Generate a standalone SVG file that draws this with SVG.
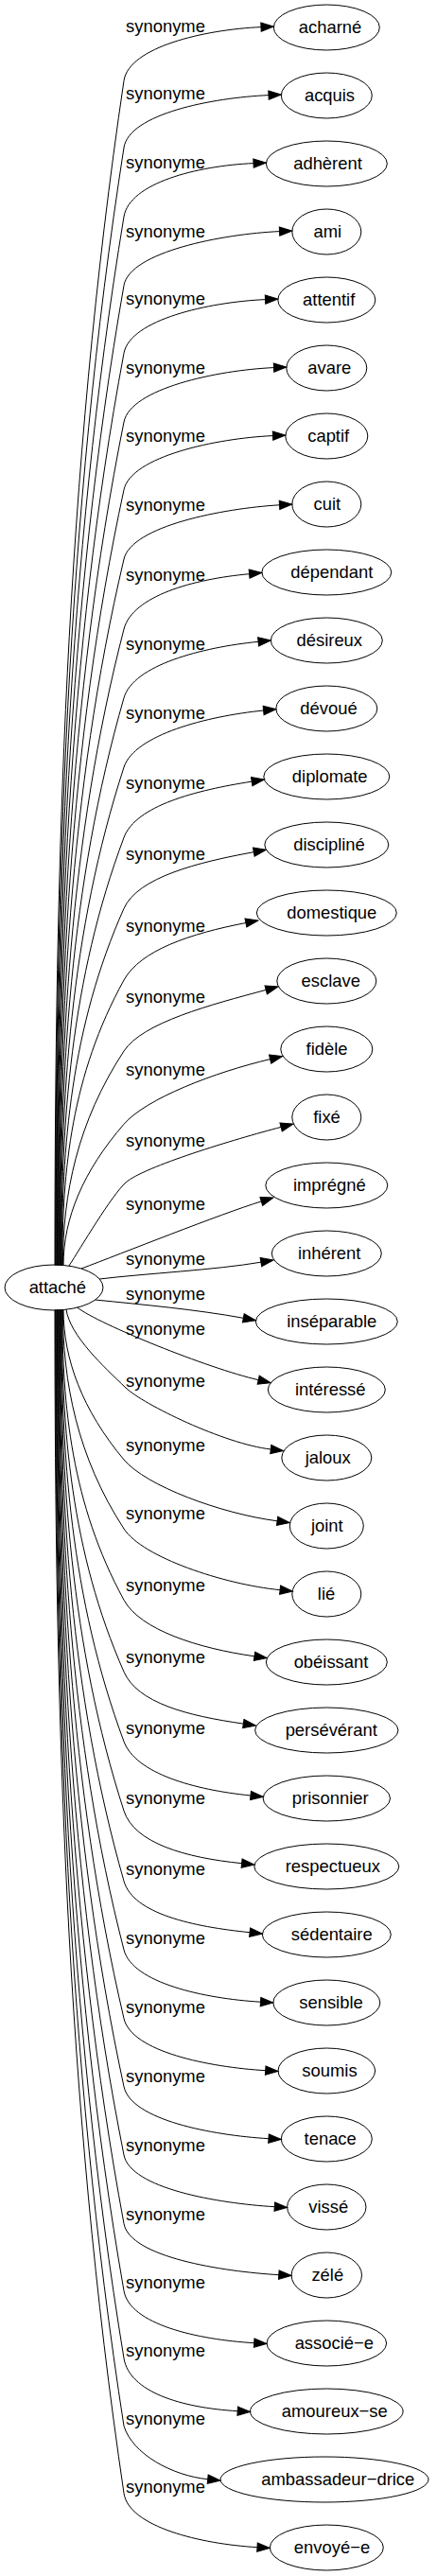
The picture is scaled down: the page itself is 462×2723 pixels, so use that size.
<svg xmlns="http://www.w3.org/2000/svg" width="462" height="2723" viewBox="0 0 462 2723">
<defs>
<style>
.n ellipse{fill:none;stroke:#000;stroke-width:1}
text{font-family:"Liberation Sans",Arial,sans-serif;font-size:18.4px;fill:#000;text-anchor:middle}
.e path{fill:none;stroke:#000;stroke-width:1;marker-end:url(#a)}
</style>
<marker id="a" markerUnits="userSpaceOnUse" markerWidth="14" markerHeight="10" refX="0" refY="5" orient="auto" overflow="visible"><path d="M0,0.33L13.3,5L0,9.67Z" fill="#000" stroke="#000" stroke-width="1"/></marker>
</defs>
<rect width="462" height="2723" fill="#fff"/>
<g id="connectors" class="e">
<g id="e0"><path d="M58,1337.5C58,920.1 68.95,502.7 131,85.3C136.3,49.7 216.1,31.3 276,28.6"/><text x="175" y="34.3">synonyme</text></g>
<g id="e1"><path d="M58.6,1337.5C58.6,943.7 69.46,549.8 131,156C136.6,120.4 224.1,103.3 284,100.6"/><text x="175" y="105">synonyme</text></g>
<g id="e2"><path d="M59.2,1337.5C59.2,968 69.97,598.5 131,229C136.9,193.5 208.1,175.3 268,172.6"/><text x="175" y="178">synonyme</text></g>
<g id="e3"><path d="M59.8,1337.5C59.8,992.2 70.48,647 131,301.7C137.2,266.2 235.6,247.3 295.5,244.6"/><text x="175" y="250.7">synonyme</text></g>
<g id="e4"><path d="M60.4,1337.5C60.4,1016.1 70.99,694.7 131,373.3C137.6,337.9 220.6,319.3 280.5,316.6"/><text x="175" y="322.3">synonyme</text></g>
<g id="e5"><path d="M61,1337.5C61,1040.3 71.5,743.2 131,446C138.1,410.7 229.6,391.3 289.5,388.6"/><text x="175" y="395">synonyme</text></g>
<g id="e6"><path d="M61.6,1337.5C61.6,1064.2 72.01,791 131,517.7C138.6,482.5 228.6,463.3 288.5,460.6"/><text x="175" y="466.7">synonyme</text></g>
<g id="e7"><path d="M62.2,1337.5C62.2,1088.7 72.52,839.8 131,591C139.2,556 235.6,537.4 295.5,533.8"/><text x="175" y="540">synonyme</text></g>
<g id="e8"><path d="M62.8,1337.5C62.8,1113.3 73.03,889.2 131,665C140,630.2 203.8,612.1 263.6,606.7"/><text x="175" y="614">synonyme</text></g>
<g id="e9"><path d="M63.4,1337.5C63.4,1137.6 73.54,937.6 131,737.7C140.9,703.1 213.4,684.3 273.1,678.3"/><text x="175" y="686.7">synonyme</text></g>
<g id="e10"><path d="M64,1337.5C64,1162 74.05,986.5 131,811C142.1,776.8 218.9,757 278.6,751"/><text x="175" y="760">synonyme</text></g>
<g id="e11"><path d="M64.6,1337.5C64.6,1186.8 74.56,1036 131,885.3C143.6,851.6 206.9,835.4 266.2,826.1"/><text x="175" y="834.3">synonyme</text></g>
<g id="e12"><path d="M65.2,1337.5C65.2,1211.8 75.07,1086 131,960.3C145.6,927.4 209.3,911.4 268.3,900.7"/><text x="175" y="909.3">synonyme</text></g>
<g id="e13"><path d="M65.8,1337.5C65.8,1237 75.58,1136.5 131,1036C148.4,1004.5 201,986.9 259.9,975.5"/><text x="175" y="985">synonyme</text></g>
<g id="e14"><path d="M66.4,1337.5C66.4,1262 81.6,1186.5 131,1111C150.7,1080.9 223.2,1061.9 281.2,1046.4"/><text x="175" y="1060">synonyme</text></g>
<g id="e15"><path d="M67,1337.5C67,1287.8 87.9,1238 131,1188.3C154.6,1161.1 227.2,1133.4 285.6,1119.6"/><text x="175" y="1137.3">synonyme</text></g>
<g id="e16"><path d="M73,1338C85,1319.5 118,1263.4 133,1250C151.6,1233.3 248.8,1204 297.1,1191.4"/><text x="175" y="1212.3">synonyme</text></g>
<g id="e17"><path d="M86,1341C128.1,1325.2 233.3,1283.2 276.3,1269.9"/><text x="175" y="1279">synonyme</text></g>
<g id="e18"><path d="M105.2,1352C155,1346 226.6,1342.6 275.9,1334.2"/><text x="175" y="1336.7">synonyme</text></g>
<g id="e19"><path d="M100.5,1374C150.5,1379 208.1,1384.3 257.3,1393.3"/><text x="175" y="1374.3">synonyme</text></g>
<g id="e20"><path d="M81.7,1382.1C105,1400 219.6,1446.3 273.2,1458.7"/><text x="175" y="1411">synonyme</text></g>
<g id="e21"><path d="M70,1384.2C74,1412 110,1445 133,1467C151,1484.3 236.7,1526.2 286.3,1532"/><text x="175" y="1466">synonyme</text></g>
<g id="e22"><path d="M67,1384.5C67,1436.7 87.3,1490.8 131,1543C154.1,1570.6 233.6,1600 293.1,1607.8"/><text x="175" y="1534">synonyme</text></g>
<g id="e23"><path d="M66.4,1384.5C66.4,1460.6 81.5,1539.9 131,1616C150.6,1646.2 236.4,1674.7 296.1,1680.7"/><text x="175" y="1605.7">synonyme</text></g>
<g id="e24"><path d="M65.8,1384.5C65.8,1485.9 75.6,1589.9 131,1691.3C148.3,1722.9 209.6,1742.4 269,1750.8"/><text x="175" y="1681.7">synonyme</text></g>
<g id="e25"><path d="M65.2,1384.5C65.2,1511.4 75.1,1640.3 131,1767.2C145.5,1800.1 197.9,1813.7 257.3,1822.1"/><text x="175" y="1758.3">synonyme</text></g>
<g id="e26"><path d="M64.6,1384.5C64.6,1536.2 74.6,1689.2 131,1840.9C143.6,1874.7 205.3,1892 265,1898"/><text x="175" y="1832.7">synonyme</text></g>
<g id="e27"><path d="M64,1384.5C64,1560.9 74.05,1737.8 131,1914.2C142.1,1948.4 195.9,1963.7 255.6,1969.7"/><text x="175" y="1906.7">synonyme</text></g>
<g id="e28"><path d="M63.4,1384.5C63.4,1585.9 73.5,1787.1 131,1988.5C140.9,2023.1 204.4,2036.7 264.1,2042.7"/><text x="175" y="1981.7">synonyme</text></g>
<g id="e29"><path d="M62.8,1384.5C62.8,1610.3 73,1835.3 131,2061.1C140,2096 215.6,2112.6 275.5,2116.2"/><text x="175" y="2055">synonyme</text></g>
<g id="e30"><path d="M62.2,1384.5C62.2,1634.8 72.5,1883.4 131,2133.7C139.2,2168.8 220.8,2185.1 280.7,2188.7"/><text x="175" y="2128.3">synonyme</text></g>
<g id="e31"><path d="M61.6,1384.5C61.6,1659 72,1931.2 131,2205.7C138.6,2240.9 224.1,2257.1 284,2260.7"/><text x="175" y="2201">synonyme</text></g>
<g id="e32"><path d="M61,1384.5C61,1683.3 71.5,1979.2 131,2278C138,2313.3 230.4,2329.1 290.3,2332.7"/><text x="175" y="2274">synonyme</text></g>
<g id="e33"><path d="M60.4,1384.5C60.4,1707.8 71,2027.3 131,2350.6C137.6,2386 234.9,2401.1 294.8,2404.7"/><text x="175" y="2347.3">synonyme</text></g>
<g id="e34"><path d="M59.8,1384.5C59.8,1731.7 70.5,2074.4 131,2421.6C137.2,2457.1 208.8,2473.1 268.7,2476.7"/><text x="175" y="2419">synonyme</text></g>
<g id="e35"><path d="M59.2,1384.5C59.2,1755.7 70,2121.7 131,2492.9C136.8,2528.4 191.3,2545.1 251.2,2548.7"/><text x="175" y="2491">synonyme</text></g>
<g id="e36"><path d="M58.6,1384.5C58.6,1779.8 69.5,2169.2 131,2564.5C140,2594 182,2617 219.7,2620.7"/><text x="175" y="2563.3">synonyme</text></g>
<g id="e37"><path d="M58,1384.5C58,1803.7 68.95,2216.3 131,2635.5C136.3,2671.1 212.1,2689.1 272,2692.7"/><text x="175" y="2635">synonyme</text></g>
</g>
<g id="n-attache" class="n"><ellipse cx="57" cy="1361" rx="52" ry="24"/><text x="60.8" y="1366.6">attaché</text></g>
<g id="n-acharne" class="n"><ellipse cx="345.3" cy="29" rx="56" ry="24"/><text x="349" y="34.6">acharné</text></g>
<g id="n-acquis" class="n"><ellipse cx="345.3" cy="101" rx="48" ry="24"/><text x="348.5" y="106.6">acquis</text></g>
<g id="n-adherent" class="n"><ellipse cx="345.3" cy="173" rx="64" ry="24"/><text x="346.5" y="178.6">adhèrent</text></g>
<g id="n-ami" class="n"><ellipse cx="345.3" cy="245" rx="36.5" ry="24"/><text x="346.3" y="250.6">ami</text></g>
<g id="n-attentif" class="n"><ellipse cx="345.3" cy="317" rx="51.5" ry="24"/><text x="347.7" y="322.6">attentif</text></g>
<g id="n-avare" class="n"><ellipse cx="345.3" cy="389" rx="42.5" ry="24"/><text x="348.3" y="394.6">avare</text></g>
<g id="n-captif" class="n"><ellipse cx="345.3" cy="461" rx="43.5" ry="24"/><text x="347.2" y="466.6">captif</text></g>
<g id="n-cuit" class="n"><ellipse cx="345.3" cy="533" rx="36.5" ry="24"/><text x="345.8" y="538.6">cuit</text></g>
<g id="n-dependant" class="n"><ellipse cx="345.3" cy="605" rx="68.5" ry="24"/><text x="350.8" y="610.6">dépendant</text></g>
<g id="n-desireux" class="n"><ellipse cx="345.3" cy="677" rx="59" ry="24"/><text x="348.3" y="682.6">désireux</text></g>
<g id="n-devoue" class="n"><ellipse cx="345.3" cy="749" rx="53.5" ry="24"/><text x="347.5" y="754.6">dévoué</text></g>
<g id="n-diplomate" class="n"><ellipse cx="345.3" cy="821" rx="66.5" ry="24"/><text x="348.7" y="826.6">diplomate</text></g>
<g id="n-discipline" class="n"><ellipse cx="345.3" cy="893" rx="65.5" ry="24"/><text x="348" y="898.6">discipliné</text></g>
<g id="n-domestique" class="n"><ellipse cx="345.3" cy="965" rx="74" ry="24"/><text x="350.8" y="970.6">domestique</text></g>
<g id="n-esclave" class="n"><ellipse cx="345.3" cy="1037" rx="52.5" ry="24"/><text x="349.7" y="1042.6">esclave</text></g>
<g id="n-fidele" class="n"><ellipse cx="345.3" cy="1109" rx="48.5" ry="24"/><text x="345.5" y="1114.6">fidèle</text></g>
<g id="n-fixe" class="n"><ellipse cx="345.3" cy="1181" rx="36.5" ry="24"/><text x="345.5" y="1186.6">fixé</text></g>
<g id="n-impregne" class="n"><ellipse cx="345.3" cy="1253" rx="64.5" ry="24"/><text x="348.3" y="1258.6">imprégné</text></g>
<g id="n-inherent" class="n"><ellipse cx="345.3" cy="1325" rx="58" ry="24"/><text x="348.2" y="1330.6">inhérent</text></g>
<g id="n-inseparable" class="n"><ellipse cx="345.3" cy="1397" rx="75" ry="24"/><text x="350.7" y="1402.6">inséparable</text></g>
<g id="n-interesse" class="n"><ellipse cx="345.3" cy="1469" rx="62" ry="24"/><text x="349.2" y="1474.6">intéressé</text></g>
<g id="n-jaloux" class="n"><ellipse cx="345.3" cy="1541" rx="47.5" ry="24"/><text x="346.7" y="1546.6">jaloux</text></g>
<g id="n-joint" class="n"><ellipse cx="345.3" cy="1613" rx="39" ry="24"/><text x="345.8" y="1618.6">joint</text></g>
<g id="n-lie" class="n"><ellipse cx="345.3" cy="1685" rx="36.5" ry="24"/><text x="345" y="1690.6">lié</text></g>
<g id="n-obeissant" class="n"><ellipse cx="345.3" cy="1757" rx="64" ry="24"/><text x="350" y="1762.6">obéissant</text></g>
<g id="n-perseverant" class="n"><ellipse cx="345.3" cy="1829" rx="75.7" ry="24"/><text x="350.2" y="1834.6">persévérant</text></g>
<g id="n-prisonnier" class="n"><ellipse cx="345.3" cy="1901" rx="67.2" ry="24"/><text x="349.2" y="1906.6">prisonnier</text></g>
<g id="n-respectueux" class="n"><ellipse cx="345.3" cy="1973" rx="76.5" ry="24"/><text x="351.8" y="1978.6">respectueux</text></g>
<g id="n-sedentaire" class="n"><ellipse cx="345.3" cy="2045" rx="68" ry="24"/><text x="350.7" y="2050.6">sédentaire</text></g>
<g id="n-sensible" class="n"><ellipse cx="345.3" cy="2117" rx="56.5" ry="24"/><text x="350" y="2122.6">sensible</text></g>
<g id="n-soumis" class="n"><ellipse cx="345.3" cy="2189" rx="51.3" ry="24"/><text x="348.5" y="2194.6">soumis</text></g>
<g id="n-tenace" class="n"><ellipse cx="345.3" cy="2261" rx="48" ry="24"/><text x="349.2" y="2266.6">tenace</text></g>
<g id="n-visse" class="n"><ellipse cx="345.3" cy="2333" rx="41.7" ry="24"/><text x="347.2" y="2338.6">vissé</text></g>
<g id="n-zele" class="n"><ellipse cx="345.3" cy="2405" rx="37.2" ry="24"/><text x="346.3" y="2410.6">zélé</text></g>
<g id="n-associe-e" class="n"><ellipse cx="345.3" cy="2477" rx="63.3" ry="24"/><text x="353.3" y="2482.6">associé−e</text></g>
<g id="n-amoureux-se" class="n"><ellipse cx="345.3" cy="2549" rx="80.8" ry="24"/><text x="353.8" y="2554.6">amoureux−se</text></g>
<g id="n-ambassadeur-drice" class="n"><ellipse cx="343" cy="2621" rx="110" ry="24"/><text x="357.3" y="2626.6">ambassadeur−drice</text></g>
<g id="n-envoye-e" class="n"><ellipse cx="345.3" cy="2693" rx="60" ry="24"/><text x="351" y="2698.6">envoyé−e</text></g>
</svg>
